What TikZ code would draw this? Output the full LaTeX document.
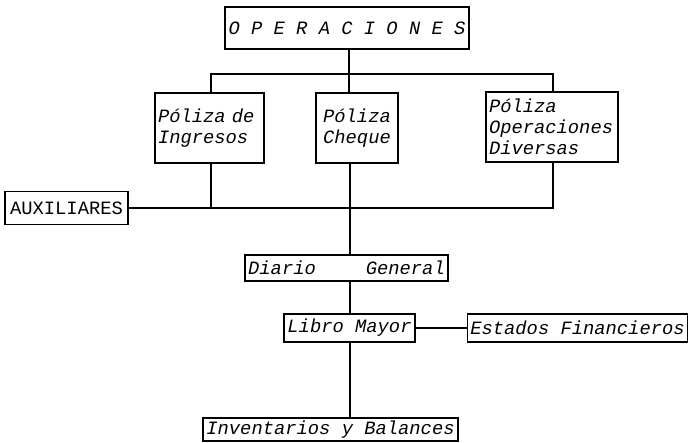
\documentclass[tikz,border=0pt]{standalone}
\usepackage{fontspec}
\newfontfamily\bxfam{Liberation Mono}
\newcommand\bxfont{\bxfam\itshape\fontsize{18.8}{21}\selectfont}
\newcommand\bxfontup{\bxfam\upshape\fontsize{18.8}{21}\selectfont}
\tikzset{
  box/.style={draw, line width=1.6pt, inner xsep=3pt, inner ysep=1pt,
    font=\bxfont, anchor=center},
  conn/.style={line width=1.7pt},
}
\begin{document}
\begin{tikzpicture}[x=1pt,y=-1pt]
\useasboundingbox (0,0) rectangle (688,443);
\node[box, minimum width=244pt, minimum height=42pt] (ops) at (347,28) {O P E R A C I O N E S};
\node[box, minimum width=109pt, minimum height=70pt, text width=103pt, align=left] (ing) at (209.5,128) {Póliza de\\Ingresos};
\node[box, minimum width=82pt, minimum height=70pt, align=left] (che) at (357,128) {Póliza\\Cheque};
\node[box, minimum width=132pt, minimum height=70pt, text width=126pt, align=left] (div) at (552,127) {Póliza\\Operaciones\\Diversas};
\node[box, font=\bxfontup, minimum width=123pt, minimum height=33pt] (aux) at (66.5,208) {AUXILIARES};
\node[box, minimum width=203pt, minimum height=26pt] (dia) at (346.5,268) {Diario\hspace*{50pt}General};
\node[box, minimum width=131pt, minimum height=28pt] (lib) at (349.5,328) {Libro Mayor};
\node[box, minimum width=219pt, minimum height=28pt] (est) at (577.5,328) {Estados Financieros};
\node[box, minimum width=255pt, minimum height=23pt] (inv) at (330.5,429.5) {Inventarios y Balances};
\coordinate (jt) at (349,74);
\coordinate (tl) at (211,74);
\coordinate (tr) at (553,74);
\coordinate (bl) at (211,208);
\coordinate (br) at (553,208);
\coordinate (bm) at (350,208);
\draw[conn] (ops.south -| jt) -- (jt);
\draw[conn] (ing.north -| tl) -- (tl) -- (tr) -- (div.north -| tr);
\draw[conn] (che.north -| jt) -- (jt);
\draw[conn] (aux.east) -- (aux.east -| br) -- (div.south -| br);
\draw[conn] (ing.south -| bl) -- (bl);
\draw[conn] (che.south -| bm) -- (dia.north -| bm);
\draw[conn] (dia.south -| bm) -- (lib.north -| bm);
\draw[conn] (lib.east) -- (est.west);
\draw[conn] (lib.south -| bm) -- (inv.north -| bm);
\end{tikzpicture}
\end{document}
